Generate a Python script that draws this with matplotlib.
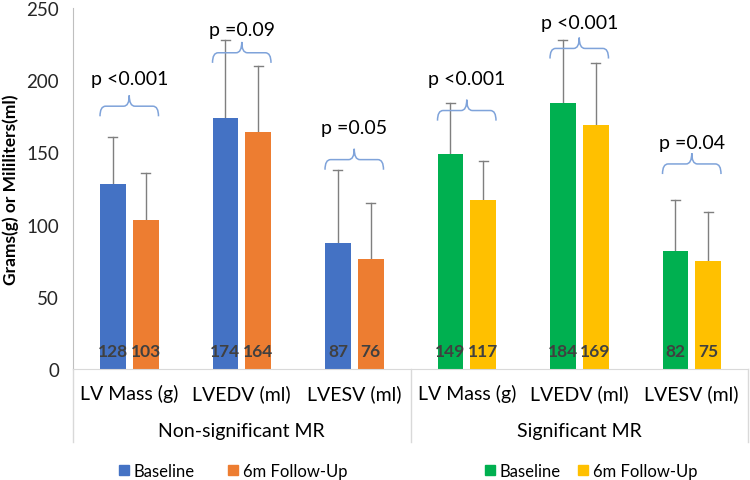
import matplotlib
matplotlib.use("Agg")
import matplotlib.pyplot as plt
from matplotlib.path import Path
from matplotlib.patches import PathPatch, Patch
from matplotlib.lines import Line2D
import numpy as np

plt.rcParams['font.family'] = ['Lato', 'DejaVu Sans']

# datos
categorias = ["LV Mass (g)", "LVEDV (ml)", "LVESV (ml)", "LV Mass (g)", "LVEDV (ml)", "LVESV (ml)"]
grupos = ["Non-significant MR", "Significant MR"]
baseline = [128, 174, 87, 149, 184, 82]
followup = [103, 164, 76, 117, 169, 75]
base_top = [161, 228, 138, 184, 228, 117]   # extremo superior barra de error
follow_top = [136, 210, 115, 144, 212, 109]
p_labels = ["p <0.001", "p =0.09", "p =0.05", "p <0.001", "p <0.001", "p =0.04"]
brace_y = [175, 212, 138, 172, 215, 135]
p_y = [201, 235, 167, 201, 240, 157]

col_base = ["#4472C4"] * 3 + ["#00B050"] * 3
col_foll = ["#ED7D31"] * 3 + ["#FFC000"] * 3
brace_col = "#7FA3DA"
err_col = "#7F7F7F"

fig = plt.figure(figsize=(7.5, 4.81), dpi=100)
ax = fig.add_axes([73/750, 1-370/481, 675/750, 361/481])

x = np.arange(len(categorias))
w = 0.23
off = 0.145
ax.bar(x - off, baseline, w, color=col_base, zorder=2)
ax.bar(x + off, followup, w, color=col_foll, zorder=2)

# barras de error (solo hacia arriba)
for i in range(len(x)):
    for xx, y0, y1 in [(x[i]-off, baseline[i], base_top[i]), (x[i]+off, followup[i], follow_top[i])]:
        ax.plot([xx, xx], [y0, y1], color=err_col, lw=1, zorder=1)
        ax.plot([xx-0.04, xx+0.04], [y1, y1], color=err_col, lw=1, zorder=1)

# etiquetas de valor dentro de las barras
for i in range(len(x)):
    ax.text(x[i]-off, 12.5, str(baseline[i]), ha='center', va='center', fontsize=12.5,
            fontweight='bold', color='#404040', zorder=3)
    ax.text(x[i]+off, 12.5, str(followup[i]), ha='center', va='center', fontsize=12.5,
            fontweight='bold', color='#404040', zorder=3)

def llave(cx, y_end, half=0.26, r=0.05, dh=7, dt=14.5):
    x0, x1 = cx - half, cx + half
    yh = y_end + dh
    yt = y_end + dt
    verts = [(x0, y_end), (x0, yh), (x0 + r, yh),
             (cx - r, yh), (cx, yh), (cx, yt),
             (cx, yh), (cx + r, yh),
             (x1 - r, yh), (x1, yh), (x1, y_end)]
    codes = [Path.MOVETO, Path.CURVE3, Path.CURVE3,
             Path.LINETO, Path.CURVE3, Path.CURVE3,
             Path.CURVE3, Path.CURVE3,
             Path.LINETO, Path.CURVE3, Path.CURVE3]
    ax.add_patch(PathPatch(Path(verts, codes), fill=False, edgecolor=brace_col, lw=1.1, zorder=4))

for i in range(len(x)):
    llave(x[i], brace_y[i])
    ax.text(x[i], p_y[i], p_labels[i], ha='center', va='center', fontsize=14, color='black')

ax.set_xlim(-0.5, 5.5)
ax.set_ylim(0, 250)
ax.set_yticks([0, 50, 100, 150, 200, 250])
ax.tick_params(axis='y', length=0, labelsize=13.5, pad=10, labelcolor='#262626')
ax.set_xticks(x)
ax.set_xticklabels(categorias, fontsize=14, color='black')
ax.tick_params(axis='x', length=0, pad=11)
for s in ['top', 'right']:
    ax.spines[s].set_visible(False)
ax.spines['left'].set_color('#BFBFBF')
ax.spines['bottom'].set_color('#D9D9D9')

ax.set_ylabel("Grams(g) or Mililiters(ml)", fontsize=12.5, fontweight='bold')
ax.yaxis.set_label_coords(-54/675, 0.5)

# etiquetas de grupo y separadores
for g, cx in zip(grupos, [1, 4]):
    ax.text(cx, -62/361*250, g, ha='center', va='center', fontsize=14,
            transform=ax.transData, clip_on=False)
for xs in [-0.5, 2.5, 5.5]:
    ax.add_line(Line2D([xs, xs], [0, -73/361*250], color='#D9D9D9', lw=1, clip_on=False))

# leyendas
h1 = [Patch(color=col_base[0]), Patch(color=col_foll[0])]
h2 = [Patch(color=col_base[3]), Patch(color=col_foll[3])]
fig.legend(h1, ["Baseline", "6m Follow-Up"], loc='center', bbox_to_anchor=(233/750, 1-472/481),
           ncol=2, frameon=False, fontsize=12, handlelength=0.6, handleheight=0.6,
           handletextpad=0.3, columnspacing=2.0)
fig.legend(h2, ["Baseline", "6m Follow-Up"], loc='center', bbox_to_anchor=(591/750, 1-472/481),
           ncol=2, frameon=False, fontsize=12, handlelength=0.6, handleheight=0.6,
           handletextpad=0.3, columnspacing=1.0)

fig.savefig("out.png", dpi=100)
